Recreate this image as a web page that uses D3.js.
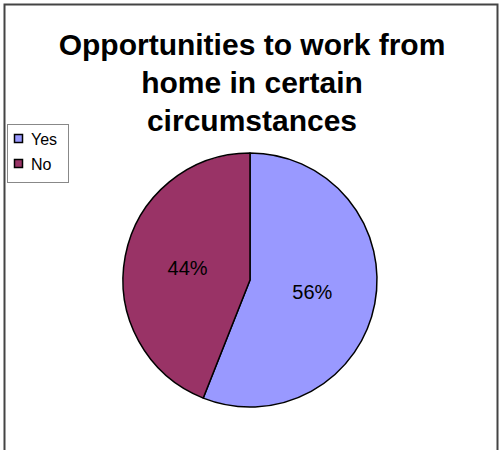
<!DOCTYPE html>
<html>
<head>
<meta charset="utf-8">
<script src="https://cdn.jsdelivr.net/npm/d3@7"></script>
<style>
  html, body { margin: 0; padding: 0; background: #fff; }
  svg { display: block; font-family: "Liberation Sans", Arial, sans-serif; }
</style>
</head>
<body>
<script>
// Share of respondents offered home working in certain circumstances
const categories = ["Yes", "No"];
const values = [56, 44];
const colors = ["#9999FF", "#993366"];
const titleLines = ["Opportunities to work from", "home in certain", "circumstances"];

const W = 501, H = 450;
const svg = d3.select("body").append("svg").attr("width", W).attr("height", H);

svg.append("rect").attr("width", W).attr("height", H).attr("fill", "#fff");

// Chart area frame (runs past the bottom edge)
svg.append("path")
  .attr("d", `M4.5,460 V4.5 H497.5 V460`)
  .attr("fill", "none").attr("stroke", "#444").attr("stroke-width", 2);

// Title
svg.append("g").selectAll("text").data(titleLines).join("text")
  .attr("x", 252).attr("y", (d, i) => 55 + i * 38)
  .attr("text-anchor", "middle")
  .attr("font-weight", "bold").attr("font-size", 30)
  .attr("fill", "#000")
  .text(d => d);

// Pie
const cx = 250, cy = 280, r = 127;
const pie = d3.pie().sort(null).value(d => d)(values);
const arc = d3.arc().innerRadius(0).outerRadius(r);
const g = svg.append("g").attr("transform", `translate(${cx},${cy})`);
g.selectAll("path").data(pie).join("path")
  .attr("d", arc)
  .attr("fill", (d, i) => colors[i])
  .attr("stroke", "#000").attr("stroke-width", 1.5).attr("stroke-linejoin", "round");

const labelArc = d3.arc().innerRadius(r * 0.5).outerRadius(r * 0.5);
g.selectAll("text").data(pie).join("text")
  .attr("transform", d => `translate(${labelArc.centroid(d)})`)
  .attr("text-anchor", "middle").attr("dy", "0.36em")
  .attr("font-size", 20).attr("fill", "#000")
  .text(d => d.data + "%");

// Legend
const lg = svg.append("g");
lg.append("rect").attr("x", 7.5).attr("y", 124.5).attr("width", 61).attr("height", 58)
  .attr("fill", "#fff").attr("stroke", "#888").attr("stroke-width", 1);
const items = lg.selectAll("g").data(categories).join("g")
  .attr("transform", (d, i) => `translate(14, ${139 + i * 25})`);
items.append("rect").attr("x", 0.5).attr("y", -4.5).attr("width", 8).attr("height", 8)
  .attr("fill", (d, i) => colors[i]).attr("stroke", "#000").attr("stroke-width", 1.5);
items.append("text").attr("x", 17).attr("y", 0).attr("dy", "0.36em")
  .attr("font-size", 16).attr("fill", "#000").text(d => d);
</script>
</body>
</html>
